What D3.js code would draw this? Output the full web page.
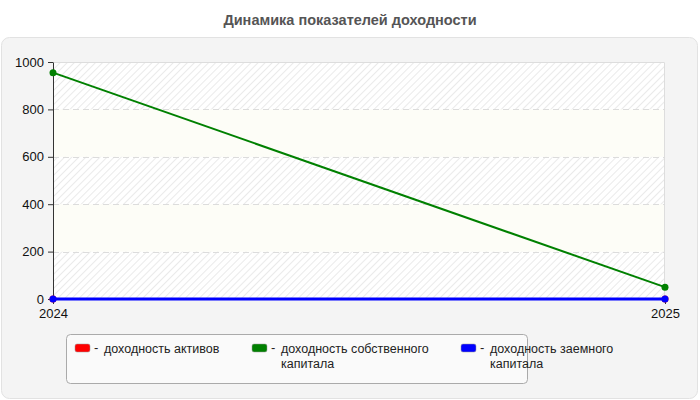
<!DOCTYPE html>
<html>
<head>
<meta charset="utf-8">
<script src="https://cdn.jsdelivr.net/npm/d3@7"></script>
<style>
  body { margin: 0; background: #fff; font-family: "Liberation Sans", Arial, sans-serif; }
</style>
</head>
<body>
<svg id="chart" width="700" height="400"></svg>
<script>
const years = [2024, 2025]
const seriesNames = ["доходность активов", "доходность собственного капитала", "доходность заемного капитала"]
const seriesColors = ["#ff0000", "#008000", "#0000ff"]
const assetsReturn = [0, 0]
const equityReturn = [955, 50]
const debtReturn = [0, 0]
const yTicks = [0, 200, 400, 600, 800, 1000]

const series = [
    {name: seriesNames[0], color: seriesColors[0], values: assetsReturn, width: 2},
    {name: seriesNames[1], color: seriesColors[1], values: equityReturn, width: 2},
    {name: seriesNames[2], color: seriesColors[2], values: debtReturn, width: 3}
]

let svg = d3.select("#chart"),
    margin = {top: 62, right: 35, bottom: 101, left: 53},
    width = 700 - margin.left - margin.right,
    height = 400 - margin.top - margin.bottom

let defs = svg.append("defs")
let pat = defs.append("pattern")
    .attr("id", "hatch")
    .attr("patternUnits", "userSpaceOnUse")
    .attr("width", 5).attr("height", 5)
    .attr("patternTransform", "rotate(45)")
pat.append("rect").attr("width", 5).attr("height", 5).attr("fill", "#ffffff")
pat.append("line").attr("x1", 0).attr("y1", 0).attr("x2", 0).attr("y2", 5)
    .attr("stroke", "#e4e4e4").attr("stroke-width", 1.5)

// outer panel
svg.append("rect")
    .attr("x", 1.5).attr("y", 37.5)
    .attr("width", 696).attr("height", 361)
    .attr("rx", 8)
    .attr("fill", "#f4f4f4")
    .attr("stroke", "#e2e2e2")

svg.append("text")
    .attr("x", 350).attr("y", 25)
    .attr("text-anchor", "middle")
    .style("font-size", "14.5px")
    .style("font-weight", "bold")
    .style("fill", "#555")
    .text("Динамика показателей доходности")

let x = d3.scaleLinear().domain([2024, 2025]).range([0, width])
let y = d3.scaleLinear().domain([0, 1000]).range([height, 0])

let g = svg.append("g").attr("transform", "translate(" + margin.left + "," + margin.top + ")")

g.append("rect")
    .attr("width", width).attr("height", height)
    .attr("fill", "url(#hatch)")

// plain bands
;[[600, 800], [200, 400]].forEach(b => {
    g.append("rect")
        .attr("x", 0).attr("y", y(b[1]))
        .attr("width", width).attr("height", y(b[0]) - y(b[1]))
        .attr("fill", "#fdfdf7")
})

g.append("path")
    .attr("d", "M0,0.5H" + (width - 0.5) + "V" + height)
    .attr("fill", "none")
    .attr("stroke", "#dddddd")

// grid
g.selectAll(".grid")
    .data(yTicks.filter(d => d > 0 && d < 1000))
    .enter().append("line")
    .attr("x1", 0).attr("x2", width)
    .attr("y1", d => Math.round(y(d)) + 0.5).attr("y2", d => Math.round(y(d)) + 0.5)
    .attr("stroke", "#dcdcdc")
    .attr("stroke-dasharray", "6,4")

let yAxis = g.append("g")
    .call(d3.axisLeft(y).tickValues(yTicks).tickFormat(d3.format("d")).tickSize(5).tickSizeOuter(0))
yAxis.select(".domain").attr("stroke", "#333")
yAxis.selectAll(".tick line").attr("stroke", "#333")
yAxis.selectAll("text").style("font-size", "13px").style("font-family", "Liberation Sans, Arial, sans-serif").style("fill", "#111").attr("x", -9)

let xAxis = g.append("g")
    .attr("transform", "translate(0," + height + ")")
    .call(d3.axisBottom(x).tickValues(years).tickFormat(d3.format("d")).tickSize(5).tickSizeOuter(0))
xAxis.select(".domain").remove()
xAxis.selectAll(".tick line").attr("stroke", "#333")
xAxis.selectAll("text").style("font-size", "13px").style("font-family", "Liberation Sans, Arial, sans-serif").style("fill", "#111").attr("y", 10)

let line = d3.line()
    .x((d, i) => x(years[i]))
    .y(d => y(d))

let s = g.selectAll(".series")
    .data(series)
    .enter().append("g")

s.append("path")
    .attr("d", d => line(d.values))
    .attr("fill", "none")
    .attr("stroke", d => d.color)
    .attr("stroke-width", d => d.width)

s.selectAll("circle")
    .data(d => d.values.map((v, i) => ({v, i, color: d.color})))
    .enter().append("circle")
    .attr("cx", d => x(years[d.i]))
    .attr("cy", d => y(d.v))
    .attr("r", 3.5)
    .attr("fill", d => d.color)

// legend
let lg = svg.append("g")
lg.append("rect")
    .attr("x", 66.5).attr("y", 334.5)
    .attr("width", 461).attr("height", 49)
    .attr("rx", 4)
    .attr("fill", "#fafafa")
    .attr("stroke", "#aaaaaa")

const legendX = [75, 252, 461]
const legendLines = [["доходность активов"], ["доходность собственного", "капитала"], ["доходность заемного", "капитала"]]

series.forEach((d, i) => {
    let item = lg.append("g").attr("transform", "translate(" + legendX[i] + ",344)")
    item.append("rect")
        .attr("width", 15).attr("height", 8)
        .attr("rx", 2)
        .attr("fill", d.color)
        .attr("stroke", "#999").attr("stroke-width", 0.5)
    item.append("text")
        .attr("x", 19).attr("y", 8)
        .style("font-size", "13px").style("fill", "#222")
        .text("-")
    let t = item.append("text")
        .attr("x", 29).attr("y", 9)
        .style("font-size", "12.5px").style("fill", "#222")
    legendLines[i].forEach((l, k) => {
        t.append("tspan").attr("x", 29).attr("dy", k ? 14.5 : 0).text(l)
    })
})
</script>
</body>
</html>
